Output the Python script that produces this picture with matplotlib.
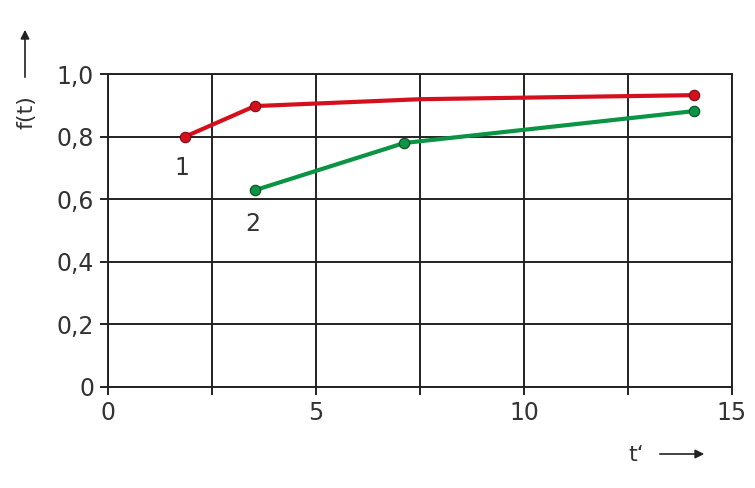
import matplotlib
matplotlib.use("Agg")
import matplotlib.pyplot as plt

# curve 1 (red): the middle point without marker is just the bend
t1 = [1.85, 3.53, 7.5, 14.09]
f1 = [0.80, 0.898, 0.92, 0.933]
mark1 = [0, 1, 3]

# curve 2 (green)
t2 = [3.53, 7.12, 14.09]
f2 = [0.629, 0.78, 0.882]

xticks = [0, 2.5, 5, 7.5, 10, 12.5, 15]
xtick_labels = ["0", "", "5", "", "10", "", "15"]
yticks = [0, 0.2, 0.4, 0.6, 0.8, 1.0]
ytick_labels = ["0", "0,2", "0,4", "0,6", "0,8", "1,0"]

curve_labels = ["1", "2"]
label_pos = [(1.78, 0.70), (3.49, 0.52)]

txt = "#333333"


def main():
    fig = plt.figure(figsize=(7.55, 4.88), dpi=100)
    ax = fig.add_axes([0.143, 0.207, 0.8265, 0.641])

    ax.set_xlim(0, 15)
    ax.set_ylim(0, 1.0)
    ax.set_xticks(xticks)
    ax.set_xticklabels(xtick_labels)
    ax.set_yticks(yticks)
    ax.set_yticklabels(ytick_labels)
    ax.grid(True, color="#222222", linewidth=1.4)
    for s in ax.spines.values():
        s.set_color("#222222")
        s.set_linewidth(1.4)
    ax.tick_params(direction="out", length=6, width=1.4, color="#222222",
                   labelsize=17, labelcolor=txt, pad=4)
    ax.set_axisbelow(True)

    ax.plot(t1, f1, color="#d4101e", linewidth=3, marker="o", markevery=mark1,
            markersize=7.5, markeredgecolor="#7a0a10", markeredgewidth=0.8, zorder=3)
    ax.plot(t2, f2, color="#0b9444", linewidth=3, marker="o",
            markersize=7.5, markeredgecolor="#0a4a22", markeredgewidth=0.8, zorder=3)

    for lab, (x, y) in zip(curve_labels, label_pos):
        ax.text(x, y, lab, fontsize=17, color=txt, ha="center", va="center")

    # axis labels with arrows
    fig.text(26 / 755, 1 - 112 / 488, "f(t)", rotation=90, fontsize=16, color=txt,
             ha="center", va="center")
    fig.add_artist(matplotlib.patches.FancyArrowPatch(
        (25 / 755, 1 - 80 / 488), (25 / 755, 1 - 27 / 488),
        transform=fig.transFigure, arrowstyle="-|>", mutation_scale=13,
        color="#222222", linewidth=1.2))
    fig.text(636 / 755, 1 - 455 / 488, "t‘", fontsize=16, color=txt,
             ha="center", va="center")
    fig.add_artist(matplotlib.patches.FancyArrowPatch(
        (657 / 755, 1 - 454 / 488), (707 / 755, 1 - 454 / 488),
        transform=fig.transFigure, arrowstyle="-|>", mutation_scale=13,
        color="#222222", linewidth=1.2))

    fig.savefig("out.png", dpi=100)
    plt.close(fig)


if __name__ == "__main__":
    main()
